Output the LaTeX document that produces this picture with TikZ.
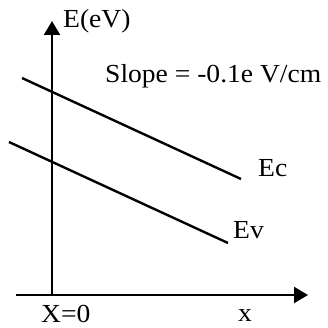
\documentclass[tikz,border=0pt]{standalone}
\usepackage{fontspec}
\setmainfont[FakeStretch=1.06]{Liberation Serif}
\usetikzlibrary{arrows.meta}
\begin{document}
\begin{tikzpicture}[x=1pt,y=-1pt,
  axis/.style={line width=2.4pt,-{Triangle[length=14pt,width=16pt]}},
  band/.style={line width=2.4pt},
  lbl/.style={inner sep=0pt,anchor=base west,font=\fontsize{26}{30}\selectfont}]
\useasboundingbox (0,0) rectangle (328,328);
\coordinate (vb) at (52,296);
\coordinate (vt) at (52,21);
\coordinate (hl) at (16,295);
\coordinate (hr) at (308,295);
\draw[axis] (vb) -- (vt);
\draw[axis] (hl) -- (hr);
\coordinate (ec1) at (22,78);
\coordinate (ec2) at (241,179);
\coordinate (ev1) at (9,142);
\coordinate (ev2) at (228,243);
\draw[band] (ec1) -- (ec2);
\draw[band] (ev1) -- (ev2);
\node[lbl] (E) at (63,28) {E(eV)};
\node[lbl] (S) at (105,83) {Slope = -0.1e V/cm};
\node[lbl] (Ec) at (258,177) {Ec};
\node[lbl] (Ev) at (233,238) {Ev};
\node[lbl] (X0) at (41,322) {X=0};
\node[lbl] (x) at (238,321) {x};
\end{tikzpicture}
\end{document}
